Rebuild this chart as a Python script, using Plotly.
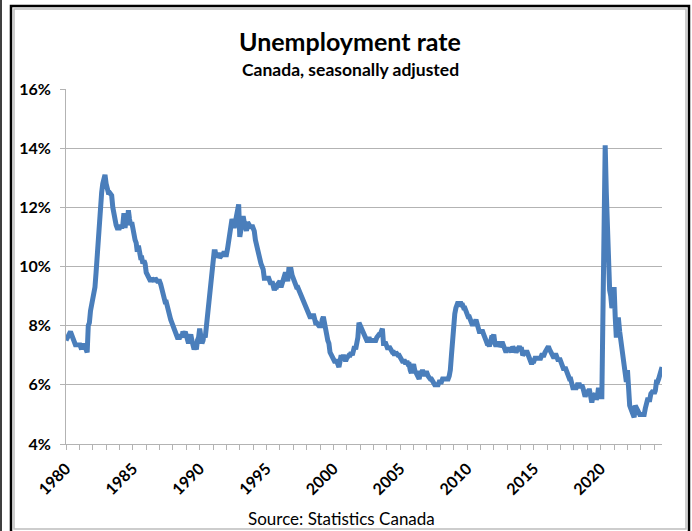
import plotly.graph_objects as go

# Monthly unemployment rate (%), Canada, seasonally adjusted, Jan 1980 - Aug 2024
rates_by_year = {
    1980: [7.5, 7.6, 7.6, 7.7, 7.8, 7.7, 7.6, 7.5, 7.4, 7.3, 7.4, 7.3],
    1981: [7.4, 7.3, 7.2, 7.4, 7.2, 7.3, 7.1, 7.1, 8.0, 8.1, 8.5, 8.7],
    1982: [8.7, 8.9, 9.3, 9.8, 10.4, 11.2, 11.9, 12.2, 12.5, 12.8, 12.9, 13.1],
    1983: [12.8, 12.6, 12.5, 12.5, 12.4, 12.4, 12.0, 11.7, 11.4, 11.4, 11.3, 11.3],
    1984: [11.3, 11.4, 11.3, 11.4, 11.8, 11.3, 11.6, 11.4, 11.9, 11.6, 11.4, 11.5],
    1985: [11.2, 10.9, 10.9, 10.8, 10.5, 10.7, 10.4, 10.3, 10.3, 10.1, 10.2, 10.1],
    1986: [9.8, 9.7, 9.6, 9.6, 9.5, 9.6, 9.5, 9.5, 9.6, 9.5, 9.5, 9.5],
    1987: [9.5, 9.4, 9.2, 9.1, 9.0, 8.8, 8.8, 8.6, 8.5, 8.3, 8.2, 8.1],
    1988: [8.0, 7.8, 7.8, 7.7, 7.6, 7.6, 7.6, 7.7, 7.6, 7.8, 7.7, 7.8],
    1989: [7.6, 7.5, 7.4, 7.6, 7.7, 7.5, 7.3, 7.2, 7.3, 7.2, 7.5, 7.6],
    1990: [7.9, 7.6, 7.4, 7.5, 7.7, 7.6, 8.0, 8.3, 8.7, 9.1, 9.5, 9.9],
    1991: [10.3, 10.5, 10.5, 10.3, 10.4, 10.4, 10.3, 10.4, 10.4, 10.4, 10.5, 10.4],
    1992: [10.4, 10.6, 10.9, 10.9, 11.2, 11.6, 11.5, 11.3, 11.5, 11.7, 11.9, 12.1],
    1993: [11.0, 11.3, 11.6, 11.7, 11.5, 11.3, 11.2, 11.5, 11.4, 11.4, 11.3, 11.4],
    1994: [11.3, 11.2, 10.9, 10.7, 10.7, 10.3, 10.1, 10.1, 10.0, 9.9, 9.6, 9.6],
    1995: [9.6, 9.6, 9.6, 9.5, 9.4, 9.5, 9.3, 9.2, 9.3, 9.3, 9.4, 9.5],
    1996: [9.5, 9.3, 9.4, 9.5, 9.6, 9.8, 9.7, 9.5, 9.9, 9.9, 9.9, 9.7],
    1997: [9.6, 9.5, 9.3, 9.3, 9.3, 9.2, 9.1, 9.0, 8.9, 8.9, 8.8, 8.6],
    1998: [8.6, 8.5, 8.4, 8.3, 8.3, 8.3, 8.4, 8.2, 8.1, 8.1, 8.0, 8.0],
    1999: [8.0, 8.0, 8.2, 8.3, 8.1, 7.7, 7.7, 7.5, 7.4, 7.1, 7.0, 7.0],
    2000: [6.8, 6.8, 6.8, 6.8, 6.7, 6.6, 6.8, 7.0, 6.9, 7.0, 6.9, 6.8],
    2001: [6.9, 7.0, 7.0, 7.0, 7.1, 7.0, 7.1, 7.3, 7.2, 7.4, 7.6, 8.1],
    2002: [8.0, 7.9, 7.8, 7.7, 7.6, 7.5, 7.5, 7.5, 7.6, 7.5, 7.5, 7.5],
    2003: [7.5, 7.5, 7.5, 7.6, 7.7, 7.7, 7.7, 7.9, 7.9, 7.4, 7.4, 7.4],
    2004: [7.3, 7.2, 7.3, 7.2, 7.1, 7.1, 7.1, 7.0, 7.1, 7.0, 7.0, 7.0],
    2005: [6.9, 6.9, 6.8, 6.8, 6.8, 6.7, 6.8, 6.7, 6.7, 6.5, 6.4, 6.6],
    2006: [6.7, 6.5, 6.4, 6.3, 6.2, 6.2, 6.4, 6.4, 6.5, 6.3, 6.3, 6.4],
    2007: [6.4, 6.3, 6.2, 6.2, 6.2, 6.1, 6.1, 6.0, 6.0, 6.0, 6.0, 6.1],
    2008: [6.1, 6.1, 6.2, 6.2, 6.2, 6.2, 6.2, 6.2, 6.3, 6.5, 7.0, 7.6],
    2009: [8.1, 8.4, 8.6, 8.8, 8.8, 8.7, 8.8, 8.7, 8.7, 8.6, 8.6, 8.5],
    2010: [8.3, 8.3, 8.3, 8.2, 8.1, 8.0, 8.1, 8.1, 8.2, 8.0, 7.9, 7.8],
    2011: [7.8, 7.8, 7.8, 7.7, 7.5, 7.5, 7.4, 7.4, 7.3, 7.5, 7.6, 7.6],
    2012: [7.7, 7.4, 7.3, 7.4, 7.4, 7.3, 7.4, 7.4, 7.4, 7.3, 7.2, 7.1],
    2013: [7.2, 7.2, 7.2, 7.2, 7.1, 7.3, 7.2, 7.2, 7.1, 7.2, 7.3, 7.3],
    2014: [7.2, 7.2, 7.0, 7.1, 7.1, 7.1, 7.1, 7.0, 6.9, 6.7, 6.7, 6.8],
    2015: [6.8, 6.9, 6.9, 6.9, 6.9, 6.9, 6.9, 7.0, 7.0, 7.0, 7.1, 7.2],
    2016: [7.3, 7.3, 7.2, 7.1, 7.0, 6.9, 6.9, 7.0, 7.0, 6.9, 6.8, 6.9],
    2017: [6.8, 6.7, 6.6, 6.5, 6.6, 6.5, 6.3, 6.2, 6.2, 6.2, 6.0, 5.9],
    2018: [5.9, 5.9, 5.9, 6.0, 6.0, 6.0, 5.9, 6.0, 5.9, 5.8, 5.6, 5.7],
    2019: [5.8, 5.8, 5.8, 5.6, 5.4, 5.6, 5.7, 5.7, 5.5, 5.6, 5.9, 5.6],
    2020: [5.6, 5.6, 8.3, 13.1, 14.1, 12.5, 11.0, 10.3, 9.2, 9.0, 8.6, 8.7],
    2021: [9.3, 8.3, 7.6, 8.2, 8.2, 7.8, 7.5, 7.2, 7.0, 6.8, 6.3, 6.1],
    2022: [6.5, 5.5, 5.3, 5.2, 5.1, 4.9, 4.9, 5.3, 5.2, 5.2, 5.1, 5.0],
    2023: [5.0, 5.0, 5.0, 5.0, 5.2, 5.4, 5.5, 5.5, 5.5, 5.7, 5.8, 5.8],
    2024: [5.7, 5.8, 6.1, 6.1, 6.2, 6.4, 6.4, 6.6],
}

years = []
rates = []
for yr, vals in rates_by_year.items():
    for m, v in enumerate(vals):
        years.append(yr + m / 12.0)
        rates.append(v)

y_ticks = [4, 6, 8, 10, 12, 14, 16]
y_tick_labels = ["4%", "6%", "8%", "10%", "12%", "14%", "16%"]
x_ticks = [1980, 1985, 1990, 1995, 2000, 2005, 2010, 2015, 2020]
x_tick_labels = [str(v) for v in x_ticks]

W, H = 692, 531
L, R, T, B = 66, 30, 89, 87
PW, PH = W - L - R, H - T - B


def px(x):
    return (x - L) / PW


def py(y):
    return (H - B - y) / PH


FONT = "Lato, 'Open Sans', Arial, sans-serif"
GRID = "#b3b3b3"

fig = go.Figure()
fig.add_trace(go.Scatter(
    x=years, y=rates, mode="lines",
    line=dict(color="#4a7ebb", width=5),
    hoverinfo="skip", showlegend=False,
))

fig.update_layout(
    width=W, height=H,
    margin=dict(l=L, r=R, t=T, b=B, pad=0),
    paper_bgcolor="white", plot_bgcolor="white",
    font=dict(family=FONT, color="black"),
    xaxis=dict(
        range=[1980, 2024 + 7 / 12], showgrid=False, zeroline=False,
        showline=True, linecolor=GRID, linewidth=1,
        tickmode="array", tickvals=x_ticks, ticktext=x_tick_labels,
        ticks="outside", ticklen=5, tickcolor=GRID, tickwidth=1,
        tickangle=-45, tickfont=dict(size=16, family=FONT, weight="bold"),
        ticklabelstandoff=3,
        minor=dict(dtick=1, tick0=1980, ticks="outside", ticklen=5,
                   tickcolor=GRID, tickwidth=1, showgrid=False),
    ),
    yaxis=dict(
        range=[4, 16], showgrid=True, gridcolor=GRID, gridwidth=1.2,
        zeroline=False, showline=True, linecolor=GRID, linewidth=1,
        tickmode="array", tickvals=y_ticks, ticktext=y_tick_labels,
        ticks="outside", ticklen=5, tickcolor=GRID, tickwidth=1,
        tickfont=dict(size=16, family=FONT, weight="bold"),
        ticklabelstandoff=6,
    ),
    annotations=[
        dict(text="<b>Unemployment rate</b>", x=px(350), y=py(41),
             xref="paper", yref="paper", showarrow=False,
             xanchor="center", yanchor="middle",
             font=dict(size=25, family=FONT, color="black")),
        dict(text="<b>Canada, seasonally adjusted</b>", x=px(350), y=py(69),
             xref="paper", yref="paper", showarrow=False,
             xanchor="center", yanchor="middle",
             font=dict(size=17.5, family=FONT, color="black")),
        dict(text="Source: Statistics Canada", x=px(341), y=py(518),
             xref="paper", yref="paper", showarrow=False,
             xanchor="center", yanchor="middle",
             font=dict(size=17, family=FONT, color="black")),
    ],
    shapes=[
        dict(type="rect", xref="paper", yref="paper",
             x0=px(11), x1=px(689), y0=py(540), y1=py(6),
             line=dict(color="black", width=2.5), layer="above"),
        dict(type="rect", xref="paper", yref="paper",
             x0=px(14), x1=px(686), y0=py(529), y1=py(9),
             line=dict(color="#bdbdbd", width=1.5), layer="above"),
        dict(type="line", xref="paper", yref="paper",
             x0=px(1), x1=px(1), y0=py(540), y1=py(-5),
             line=dict(color="black", width=1.5), layer="above"),
    ],
)

fig.write_html("out.html")
